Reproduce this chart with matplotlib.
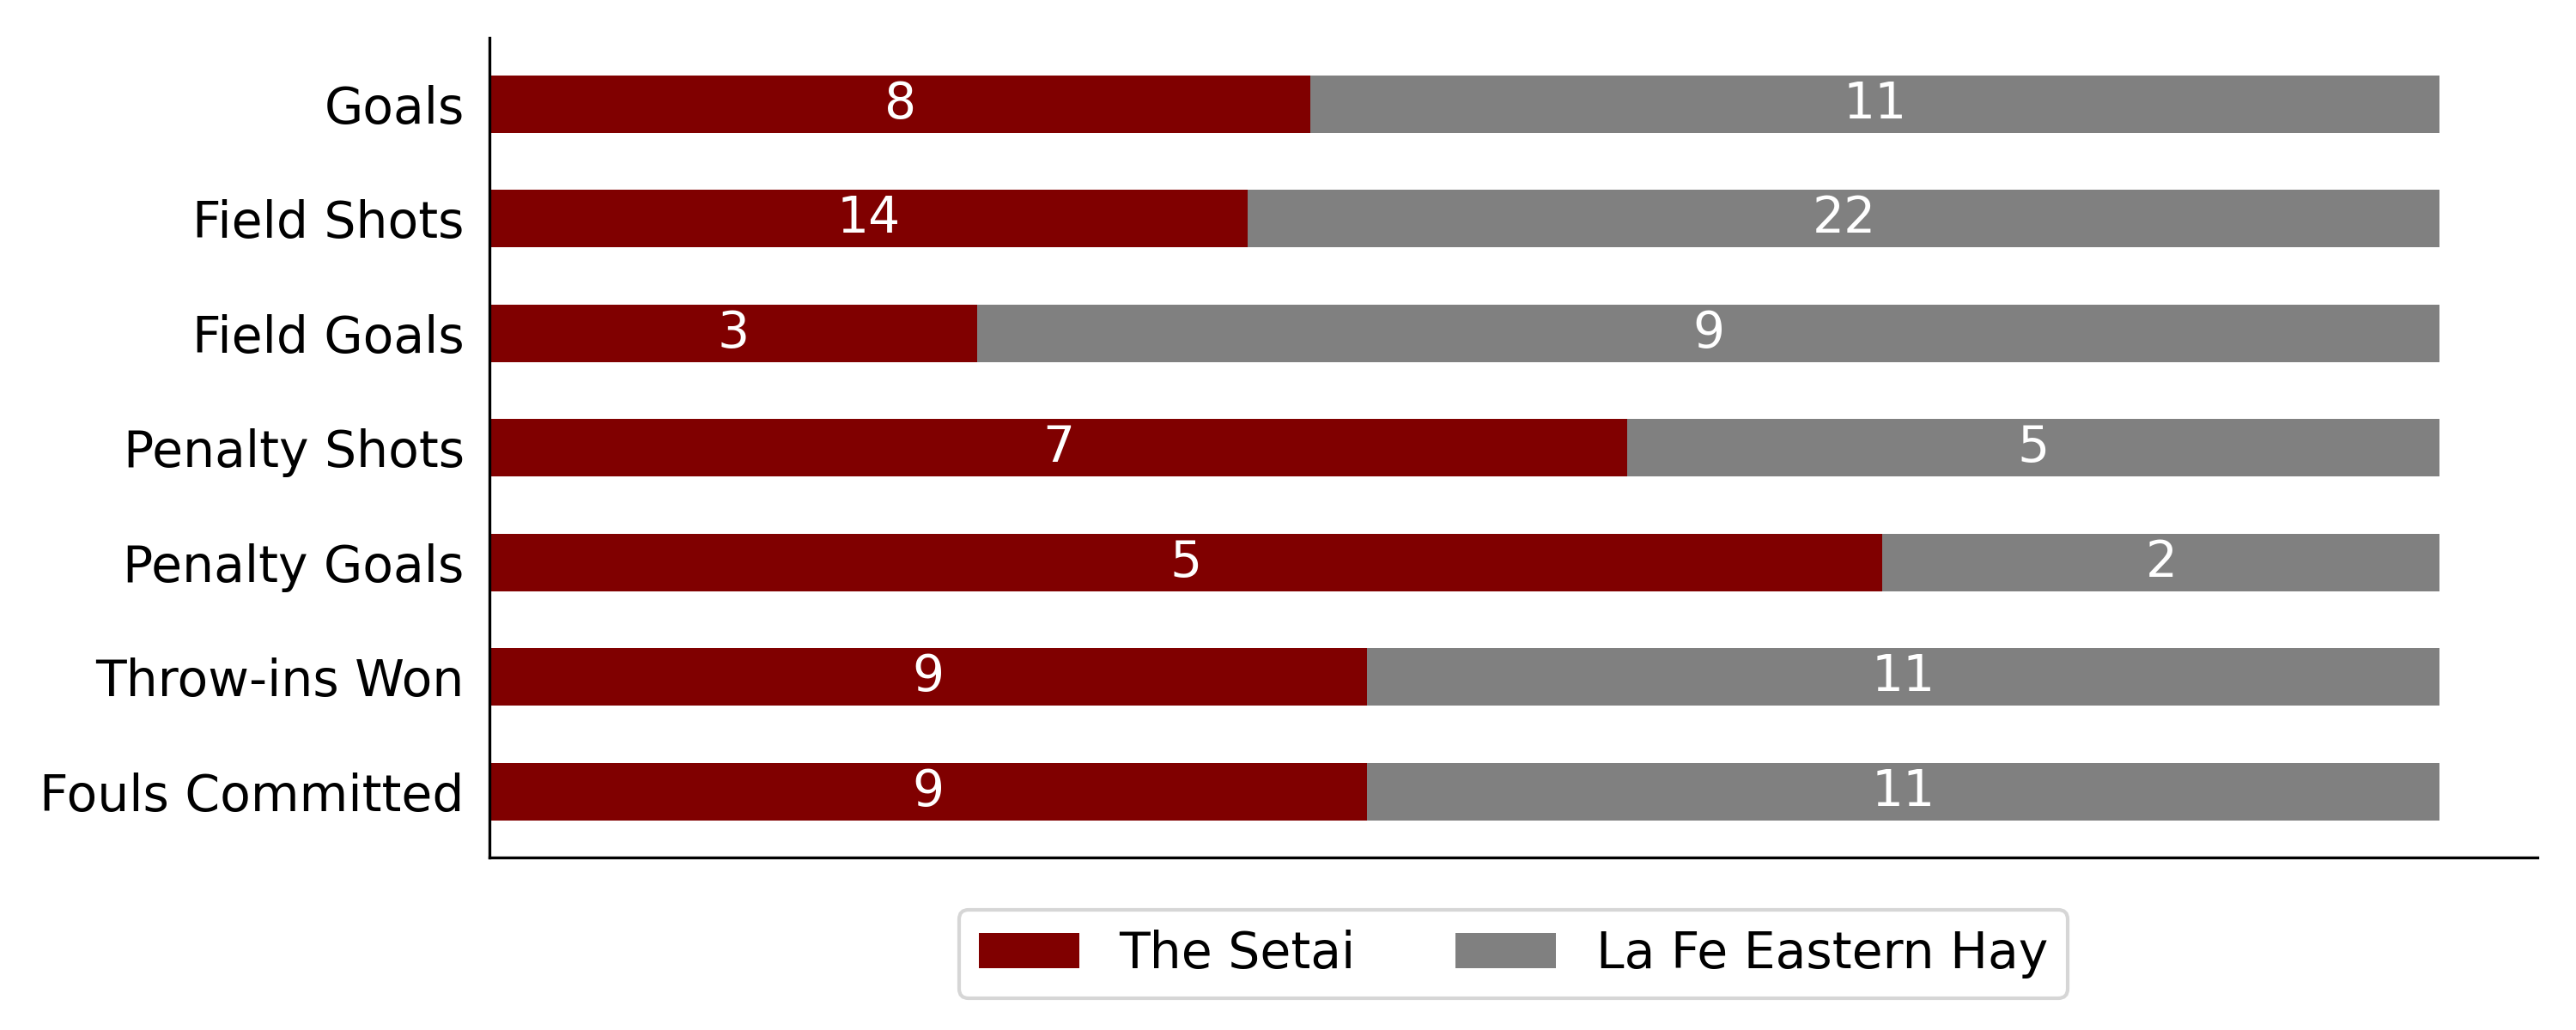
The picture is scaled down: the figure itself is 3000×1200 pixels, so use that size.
import matplotlib
matplotlib.use("Agg")
import matplotlib.pyplot as plt
import numpy as np

categories = ["Goals", "Field Shots", "Field Goals", "Penalty Shots",
              "Penalty Goals", "Throw-ins Won", "Fouls Committed"]
setai = [8, 14, 3, 7, 5, 9, 9]
lafe = [11, 22, 9, 5, 2, 11, 11]
teams = ["The Setai", "La Fe Eastern Hay"]
colors = ["#800000", "#808080"]

setai = np.array(setai, dtype=float)
lafe = np.array(lafe, dtype=float)
total = setai + lafe
f1 = setai / total
f2 = lafe / total

fig = plt.figure(figsize=(10, 4), dpi=300)
ax = fig.add_axes([0.19, 0.1675, 0.795, 0.7955])

y = np.arange(len(categories))
b1 = ax.barh(y, f1, height=0.5, color=colors[0], label=teams[0])
b2 = ax.barh(y, f2, left=f1, height=0.5, color=colors[1], label=teams[1])

for i in range(len(categories)):
    ax.text(f1[i] / 2, y[i], str(int(setai[i])), ha="center", va="center",
            color="white", fontsize=14)
    ax.text(f1[i] + f2[i] / 2, y[i], str(int(lafe[i])), ha="center",
            va="center", color="white", fontsize=14)

ax.set_yticks(y)
ax.set_yticklabels(categories, fontsize=14)
ax.invert_yaxis()
ax.set_xticks([])
ax.tick_params(left=False)
ax.spines["top"].set_visible(False)
ax.spines["right"].set_visible(False)

ax.legend(loc="upper center", bbox_to_anchor=(0.5, -0.033), ncol=2,
          fontsize=14)

fig.savefig("out.png", dpi=300)
